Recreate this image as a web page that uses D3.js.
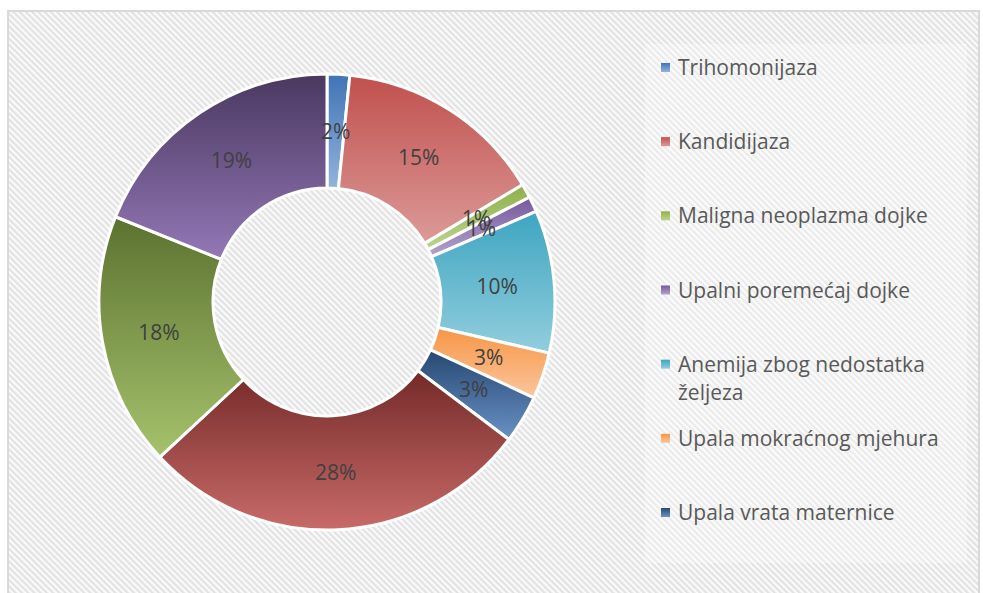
<!DOCTYPE html>
<html>
<head>
<meta charset="utf-8">
<script src="https://cdn.jsdelivr.net/npm/d3@7"></script>
<style>
	body { margin: 0; background: #ffffff; }
	svg { display: block; }
</style>
</head>
<body>
<svg id="chart" width="983" height="593"></svg>
<script>
// slice names (only the first 7 are visible in the legend of the original)
const categories = [
	"Trihomonijaza",
	"Kandidijaza",
	"Maligna neoplazma dojke",
	"Upalni poremećaj dojke",
	"Anemija zbog nedostatka željeza",
	"Upala mokraćnog mjehura",
	"Upala vrata maternice",
	"", "", ""
];
// share of each slice in percent
const shares = [1.6, 14.8, 1.0, 1.1, 10.1, 3.3, 3.4, 27.8, 18.0, 18.9];
// gradient colours (top, bottom) per slice
const topColors = ["#3f74b5", "#c0504d", "#8fb04c", "#76589c", "#3ea5c0", "#f79646", "#264872", "#742a28", "#5b7230", "#4a3860"];
const bottomColors = ["#93b3dc", "#dc9a98", "#bcd48f", "#b3a2cc", "#92cede", "#fbc59c", "#6a91c6", "#c86b69", "#a6c26c", "#9378b6"];
const legendCount = 7;

const svg = d3.select("#chart");
const defs = svg.append("defs");

// diagonal hatch background
const hatch = defs.append("pattern")
	.attr("id", "hatch")
	.attr("patternUnits", "userSpaceOnUse")
	.attr("width", 4.4)
	.attr("height", 4.4)
	.attr("patternTransform", "rotate(-45)");
hatch.append("rect").attr("width", 4.4).attr("height", 4.4).attr("fill", "#fafafa");
hatch.append("rect").attr("width", 2.2).attr("height", 4.4).attr("fill", "#e2e2e2");

svg.append("rect")
	.attr("x", 8).attr("y", 11)
	.attr("width", 971).attr("height", 590)
	.attr("fill", "url(#hatch)")
	.attr("stroke", "#d9d9d9")
	.attr("stroke-width", 2);

// lighter box behind the legend
svg.append("rect")
	.attr("x", 645).attr("y", 44)
	.attr("width", 322).attr("height", 519)
	.attr("fill", "#ffffff")
	.attr("opacity", 0.3);

// gradients for each slice
categories.forEach(function(c, i) {
	let g = defs.append("linearGradient")
		.attr("id", "grad" + i)
		.attr("x1", 0).attr("y1", 0)
		.attr("x2", 0).attr("y2", 1);
	g.append("stop").attr("offset", "0%").attr("stop-color", topColors[i]);
	g.append("stop").attr("offset", "100%").attr("stop-color", bottomColors[i]);
});

const cx = 327, cy = 302;
const outerR = 228, innerR = 114;

let data = shares.map(function(v, i) { return { name: categories[i], value: v, i: i }; });
let total = d3.sum(shares);

let pie = d3.pie().sort(null).value(function(d) { return d.value; });
let arc = d3.arc().innerRadius(innerR).outerRadius(outerR);
let labelArc = d3.arc().innerRadius((innerR + outerR) / 2).outerRadius((innerR + outerR) / 2);

let g = svg.append("g").attr("transform", "translate(" + cx + "," + cy + ")");

g.selectAll("path")
	.data(pie(data))
	.enter()
	.append("path")
	.attr("d", arc)
	.attr("fill", function(d) { return "url(#grad" + d.data.i + ")"; })
	.attr("stroke", "#ffffff")
	.attr("stroke-width", 3)
	.attr("stroke-linejoin", "round");

g.selectAll("text")
	.data(pie(data))
	.enter()
	.append("text")
	.attr("transform", function(d) { return "translate(" + labelArc.centroid(d) + ")"; })
	.attr("text-anchor", "middle")
	.attr("dy", "0.35em")
	.style("font-family", "'Open Sans', sans-serif")
	.style("font-size", "21px")
	.style("fill", "#404040")
	.text(function(d) { return Math.round(d.data.value / total * 100) + "%"; });

// legend
let legendData = data.slice(0, legendCount);
let ly = d3.scalePoint()
	.domain(legendData.map(function(d) { return d.i; }))
	.range([68, 513]);

let legend = svg.append("g");
let items = legend.selectAll("g")
	.data(legendData)
	.enter()
	.append("g")
	.attr("transform", function(d) { return "translate(0," + ly(d.i) + ")"; });

items.append("rect")
	.attr("x", 661).attr("y", -5)
	.attr("width", 9).attr("height", 9)
	.attr("fill", function(d) { return "url(#grad" + d.i + ")"; });

items.append("text")
	.attr("x", 678)
	.attr("y", 7)
	.style("font-family", "'Open Sans', sans-serif")
	.style("font-size", "21px")
	.style("fill", "#595959")
	.each(function(d) {
		// simple word wrap
		let el = d3.select(this);
		let words = d.name.split(" ");
		let line = [];
		let tspan = el.append("tspan").attr("x", 678).attr("dy", 0);
		words.forEach(function(w) {
			line.push(w);
			tspan.text(line.join(" "));
			if (tspan.node().getComputedTextLength() > 275 && line.length > 1) {
				line.pop();
				tspan.text(line.join(" "));
				line = [w];
				tspan = el.append("tspan").attr("x", 678).attr("dy", 28).text(w);
			}
		});
	});
</script>
</body>
</html>
